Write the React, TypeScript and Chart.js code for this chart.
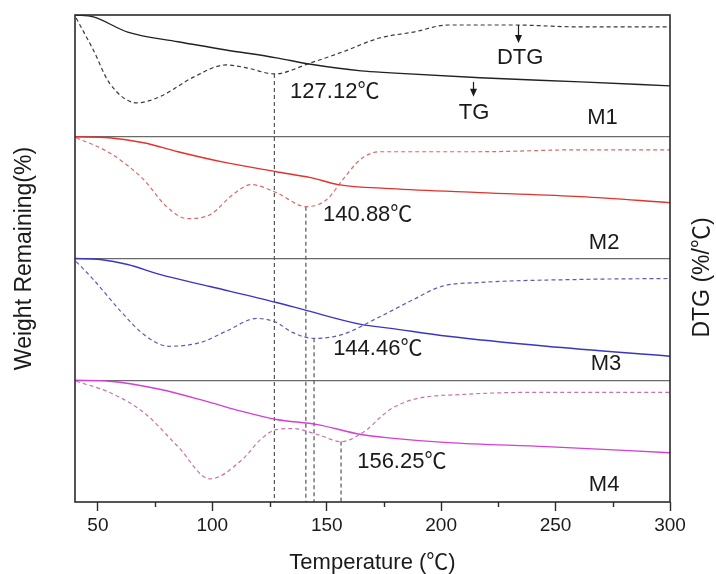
import React, { useEffect, useRef } from "react";
import { Chart, registerables } from "chart.js";

Chart.register(...registerables);

const FONT = "'Liberation Sans', Arial, 'Noto Sans CJK SC', sans-serif";

// x axis
const xTicks = [50, 100, 150, 200, 250, 300];
const xMinorTicks = [75, 125, 175, 225, 275];
const panelBounds = [0, 100, 200, 300, 400];

// sample names and panel offsets (each panel spans 100 units)
const samples = ["M1", "M2", "M3", "M4"];
const panelOffsets = [300, 200, 100, 0];

// M1 (black)
const m1TgT = [40, 48, 63, 85, 106, 128, 143, 165, 178, 217, 261, 300];
const m1TgW = [100, 98.4, 86, 78, 71.3, 64.8, 59.5, 54.1, 52.5, 48.4, 45.1, 41.8];
const m1DtgT = [40.5, 48, 55, 67, 77, 92, 106, 115, 127.12, 143, 157, 173, 188, 203, 231, 261, 300];
const m1DtgY = [97.5, 71.3, 44.3, 27.9, 32.8, 49.2, 59, 56.6, 51.6, 60.7, 69.7, 81.1, 86, 91.8, 91.8, 90.2, 90.2];

// M2 (red)
const m2TgT = [40, 55, 70, 85, 106, 128, 143, 155, 178, 217, 261, 300];
const m2TgW = [100, 99.2, 95.1, 87.7, 78.7, 71.3, 66.4, 60.7, 57.4, 54.1, 50.8, 45.9];
const m2DtgT = [40.5, 55, 70, 80, 89, 99, 109, 117, 128, 140.88, 150, 157, 164.6, 173, 217, 261, 300];
const m2DtgY = [99.2, 86.9, 64.8, 42.6, 32.8, 36, 52.5, 60.7, 54.1, 42.6, 48.4, 64.8, 81.1, 87.7, 87.7, 89.3, 89.3];

// M3 (blue)
const m3TgT = [40, 51, 63, 77, 99, 128, 141, 165, 178, 203, 246, 300];
const m3TgW = [100, 99.2, 95.1, 86.9, 77, 63.9, 57.4, 45.9, 42.6, 36.1, 27.9, 19.7];
const m3DtgT = [40.5, 48, 60, 70, 81, 95, 106, 119.5, 128, 135, 144.46, 157, 172, 188, 200, 217, 261, 300];
const m3DtgY = [97.5, 82.8, 56.6, 37.7, 27.9, 31.1, 40.2, 50.8, 47.5, 39.3, 34.4, 37.7, 51, 66.4, 77, 80.3, 82.8, 83.6];

// M4 (magenta)
const m4TgT = [40, 55, 77, 99, 113, 128, 146, 165, 178, 203, 246, 300];
const m4TgW = [100, 99.2, 92.6, 81.8, 74.4, 67.8, 63.6, 55.4, 52.5, 48.8, 45.5, 40.5];
const m4DtgT = [40.5, 55, 70, 85, 99, 113, 121, 128, 135, 146, 156.25, 167.6, 173.3, 177.7, 188, 210, 246, 300];
const m4DtgY = [99.2, 90.1, 73.6, 45.5, 19, 34.7, 51.2, 59.5, 60.3, 55.4, 49.6, 59.5, 69.4, 76, 84.3, 88.4, 90.1, 90.1];

// peak temperatures (DTG minima)
const peakT = [127.12, 140.88, 144.46, 156.25];
const peakLabels = ["127.12\u2103", "140.88\u2103", "144.46\u2103", "156.25\u2103"];

const tgColors = ["#222222", "#e3312c", "#3a36c4", "#d43fd6"];
const dtgColors = ["#3a3a3a", "#d86a6a", "#5e5cb2", "#c774ad"];

const tgT = [m1TgT, m2TgT, m3TgT, m4TgT];
const tgW = [m1TgW, m2TgW, m3TgW, m4TgW];
const dtgT = [m1DtgT, m2DtgT, m3DtgT, m4DtgT];
const dtgY = [m1DtgY, m2DtgY, m3DtgY, m4DtgY];

// annotation placement (in data units)
const peakLabelPos = [
  { t: 134, v: 336.9 },
  { t: 148.4, v: 236.1 },
  { t: 152.8, v: 125.4 },
  { t: 163.3, v: 33 },
];
const sampleLabelPos = [
  { t: 270.5, v: 315.6 },
  { t: 271.2, v: 213.1 },
  { t: 272, v: 113.1 },
  { t: 271.2, v: 14 },
];
const curveLabels = [
  { text: "DTG", t: 234.5, v: 364.8, arrowT: 233.6, arrowFrom: 391.8, arrowTo: 377 },
  { text: "TG", t: 214.4, v: 319.7, arrowT: 214, arrowFrom: 345, arrowTo: 332.8 },
];

function toPoints(T: number[], Y: number[], off: number) {
  return T.map((t, i) => ({ x: t, y: Y[i] + off }));
}

function valueAt(T: number[], Y: number[], t: number) {
  const i = T.indexOf(t);
  return i >= 0 ? Y[i] : Y[0];
}

const annotatePlugin = {
  id: "annotate",
  afterDatasetsDraw(chart: any) {
    const { ctx, chartArea: a, scales } = chart;
    const x = scales.x;
    const y = scales.y;
    ctx.save();
    // frame
    ctx.strokeStyle = "#2b2b2b";
    ctx.lineWidth = 1.6;
    ctx.strokeRect(a.left, a.top, a.right - a.left, a.bottom - a.top);
    // minor ticks
    ctx.lineWidth = 1.4;
    xMinorTicks.forEach((v) => {
      const px = Math.round(x.getPixelForValue(v)) + 0.5;
      ctx.beginPath();
      ctx.moveTo(px, a.bottom);
      ctx.lineTo(px, a.bottom + 5);
      ctx.stroke();
    });
    ctx.fillStyle = "#1a1a1a";
    ctx.font = `22px ${FONT}`;
    ctx.textBaseline = "middle";
    ctx.textAlign = "left";
    peakLabels.forEach((txt, i) => {
      ctx.fillText(txt, x.getPixelForValue(peakLabelPos[i].t), y.getPixelForValue(peakLabelPos[i].v));
    });
    ctx.textAlign = "center";
    samples.forEach((s, i) => {
      ctx.fillText(s, x.getPixelForValue(sampleLabelPos[i].t), y.getPixelForValue(sampleLabelPos[i].v));
    });
    curveLabels.forEach((c) => {
      ctx.fillText(c.text, x.getPixelForValue(c.t), y.getPixelForValue(c.v));
      const ax = Math.round(x.getPixelForValue(c.arrowT)) + 0.5;
      const y1 = y.getPixelForValue(c.arrowFrom);
      const y2 = y.getPixelForValue(c.arrowTo);
      ctx.strokeStyle = "#1a1a1a";
      ctx.lineWidth = 1.2;
      ctx.beginPath();
      ctx.moveTo(ax, y1);
      ctx.lineTo(ax, y2 - 6);
      ctx.stroke();
      ctx.beginPath();
      ctx.moveTo(ax - 3.5, y2 - 8);
      ctx.lineTo(ax + 3.5, y2 - 8);
      ctx.lineTo(ax, y2);
      ctx.closePath();
      ctx.fill();
    });
    // right title
    ctx.translate(a.right + 33, (a.top + a.bottom) / 2 + 19);
    ctx.rotate(-Math.PI / 2);
    ctx.font = `23px ${FONT}`;
    ctx.textAlign = "center";
    ctx.fillText("DTG (%/\u2103)", 0, 0);
    ctx.restore();
  },
};

export default function App() {
  const ref = useRef<HTMLCanvasElement | null>(null);

  useEffect(() => {
    if (!ref.current) return;
    const datasets: any[] = [];
    samples.forEach((s, i) => {
      const off = panelOffsets[i];
      datasets.push({
        label: s + " TG",
        data: toPoints(tgT[i], tgW[i], off),
        borderColor: tgColors[i],
        borderWidth: 1.4,
        pointRadius: 0,
        cubicInterpolationMode: "monotone",
        fill: false,
      });
      datasets.push({
        label: s + " DTG",
        data: toPoints(dtgT[i], dtgY[i], off),
        borderColor: dtgColors[i],
        borderWidth: 1.2,
        borderDash: [4, 3],
        pointRadius: 0,
        cubicInterpolationMode: "monotone",
        fill: false,
      });
    });
    peakT.forEach((t, i) => {
      const top = valueAt(dtgT[i], dtgY[i], t) + panelOffsets[i];
      datasets.push({
        label: "peak " + t,
        data: [
          { x: t, y: top },
          { x: t, y: 0 },
        ],
        borderColor: "#555555",
        borderWidth: 1.2,
        borderDash: [4, 3],
        pointRadius: 0,
        tension: 0,
        fill: false,
      });
    });

    const chart = new Chart(ref.current, {
      type: "line",
      data: { datasets },
      plugins: [annotatePlugin],
      options: {
        responsive: false,
        animation: false,
        devicePixelRatio: 1,
        layout: { padding: { top: 15, right: 46, left: 0, bottom: 0 } },
        plugins: { legend: { display: false }, tooltip: { enabled: false } },
        scales: {
          x: {
            type: "linear",
            min: 40,
            max: 300,
            afterBuildTicks: (s: any) => {
              s.ticks = xTicks.map((v) => ({ value: v }));
            },
            afterFit: (s: any) => {
              s.height = 72;
            },
            ticks: {
              font: { family: FONT, size: 19 },
              color: "#1a1a1a",
              padding: 3,
              maxRotation: 0,
              autoSkip: false,
            },
            grid: {
              drawOnChartArea: false,
              drawTicks: true,
              tickLength: 9,
              tickColor: "#2b2b2b",
              tickWidth: 1.4,
            },
            border: { display: false },
            title: {
              display: true,
              text: "Temperature (\u2103)",
              color: "#1a1a1a",
              font: { family: FONT, size: 22, lineHeight: 1 },
              padding: { top: 0, bottom: 0 },
            },
          },
          y: {
            type: "linear",
            min: 0,
            max: 400,
            afterBuildTicks: (s: any) => {
              s.ticks = panelBounds.map((v) => ({ value: v }));
            },
            afterFit: (s: any) => {
              s.width = 75;
            },
            ticks: { display: false },
            grid: {
              drawTicks: false,
              lineWidth: 1.2,
              color: (c: any) =>
                c.tick && c.tick.value > 0 && c.tick.value < 400 ? "#6a6a6a" : "rgba(0,0,0,0)",
            },
            border: { display: false },
            title: {
              display: true,
              text: "Weight Remaining(%)",
              color: "#1a1a1a",
              font: { family: FONT, size: 23 },
              padding: { top: 11, bottom: 0 },
            },
          },
        },
      },
    } as any);
    return () => chart.destroy();
  }, []);

  return (
    <div style={{ position: "absolute", left: 0, top: 0, width: 716, height: 574 }}>
      <canvas ref={ref} width={716} height={574} style={{ display: "block" }} />
    </div>
  );
}
